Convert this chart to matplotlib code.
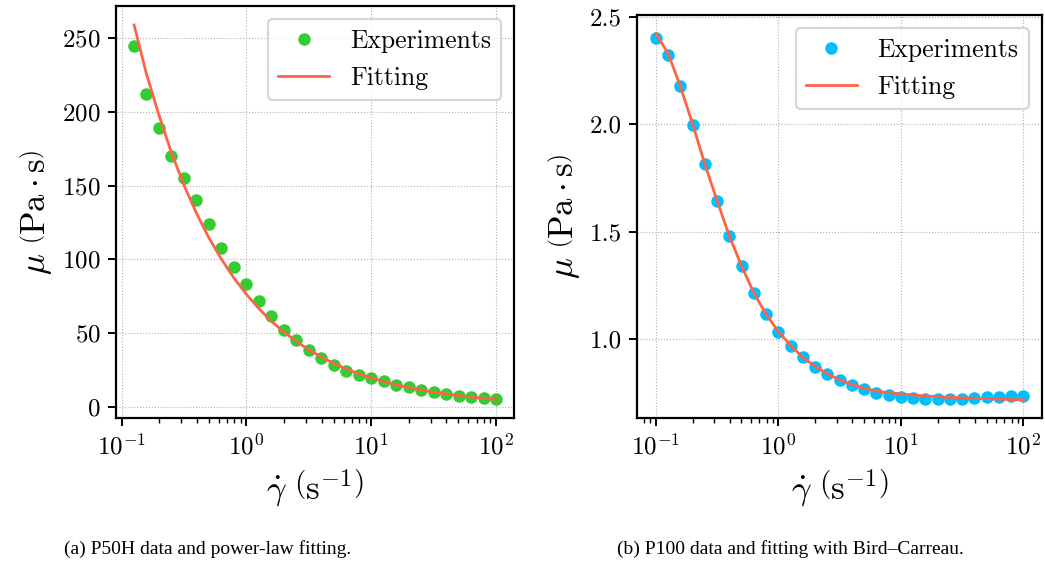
import matplotlib
matplotlib.use("Agg")
import matplotlib.pyplot as plt

plt.rcParams["font.family"] = "serif"
plt.rcParams["font.serif"] = ["cmr10"]
plt.rcParams["mathtext.fontset"] = "cm"
plt.rcParams["axes.formatter.use_mathtext"] = True

# (a) P50H, power-law fit
shear_a = [0.126, 0.158, 0.2, 0.251, 0.316, 0.398, 0.501, 0.631, 0.794, 1.0,
           1.26, 1.58, 2.0, 2.51, 3.16, 3.98, 5.01, 6.31, 7.94, 10.0,
           12.6, 15.8, 20.0, 25.1, 31.6, 39.8, 50.1, 63.1, 79.4, 100.0]
mu_exp_a = [245, 212, 189, 170, 155, 140, 124, 108, 95, 83,
            71.5, 61.5, 52, 45, 38.7, 33.3, 28.4, 24.4, 21.5, 19.4,
            17.3, 15.0, 13.2, 11.6, 9.9, 8.4, 7.5, 6.8, 6.1, 5.1]
mu_fit_a = [259, 226, 197.4, 172.3, 150.4, 131.3, 114.6, 100.1, 87.4, 76.3,
            66.6, 58.1, 50.7, 44.3, 38.7, 33.8, 29.5, 25.7, 22.5, 19.6,
            17.1, 14.9, 13.0, 11.4, 9.9, 8.7, 7.6, 6.6, 5.8, 5.0]

# (b) P100, Bird-Carreau fit
shear_b = [0.1, 0.126, 0.158, 0.2, 0.251, 0.316, 0.398, 0.501, 0.631, 0.794, 1.0,
           1.26, 1.58, 2.0, 2.51, 3.16, 3.98, 5.01, 6.31, 7.94, 10.0,
           12.6, 15.8, 20.0, 25.1, 31.6, 39.8, 50.1, 63.1, 79.4, 100.0]
mu_exp_b = [2.404, 2.323, 2.179, 1.999, 1.815, 1.644, 1.481, 1.339, 1.216, 1.116, 1.034,
            0.968, 0.914, 0.870, 0.838, 0.809, 0.784, 0.767, 0.750, 0.739, 0.731,
            0.726, 0.722, 0.721, 0.721, 0.722, 0.725, 0.728, 0.732, 0.734, 0.736]
mu_fit_b = [2.423, 2.330, 2.180, 2.000, 1.815, 1.645, 1.480, 1.340, 1.215, 1.115, 1.035,
            0.970, 0.915, 0.872, 0.838, 0.810, 0.788, 0.771, 0.758, 0.750, 0.744,
            0.739, 0.735, 0.731, 0.728, 0.726, 0.724, 0.722, 0.720, 0.718, 0.717]

fig = plt.figure(figsize=(10.45, 5.65), dpi=100)
ax_a = fig.add_axes([0.111, 0.26, 0.381, 0.729])
ax_b = fig.add_axes([0.61, 0.26, 0.387, 0.713])

panels = [
    (ax_a, shear_a, mu_exp_a, mu_fit_a, "#32CD32"),
    (ax_b, shear_b, mu_exp_b, mu_fit_b, "#00BFFF"),
]
for ax, x, y_exp, y_fit, col in panels:
    ax.plot(x, y_exp, "o", color=col, ms=8, label="Experiments", zorder=3)
    ax.plot(x, y_fit, "-", color="#FF6347", lw=2.0, label="Fitting", zorder=4)
    ax.set_xscale("log")
    ax.grid(True, which="major", ls=":", color="#b0b0b0", lw=0.8)
    ax.set_xlabel(r"$\dot{\gamma}\ \left(\mathrm{s}^{-1}\right)$", fontsize=25, labelpad=6)
    ax.set_ylabel(r"$\mu\ \left(\mathrm{Pa}\cdot\mathrm{s}\right)$", fontsize=25, labelpad=6)
    ax.tick_params(which="major", labelsize=18, length=6, width=1.4, pad=5)
    ax.tick_params(which="minor", length=3.5, width=1.0)
    for sp in ax.spines.values():
        sp.set_linewidth(1.6)
    leg = ax.legend(loc="upper right", fontsize=18.5, numpoints=1,
                    handlelength=2.0, fancybox=True, edgecolor="#cccccc")
    leg.get_frame().set_linewidth(1.6)

ax_a.set_yticks([0, 50, 100, 150, 200, 250])
ax_b.set_yticks([1.0, 1.5, 2.0, 2.5])
ax_b.set_yticklabels(["1.0", "1.5", "2.0", "2.5"])

fig.text(0.199, 0.02, "(a) P50H data and power-law fitting.",
         ha="center", fontsize=14, family="Liberation Serif")
fig.text(0.756, 0.02, "(b) P100 data and fitting with Bird\u2013Carreau.",
         ha="center", fontsize=14, family="Liberation Serif")

fig.savefig("out.png", dpi=100)
